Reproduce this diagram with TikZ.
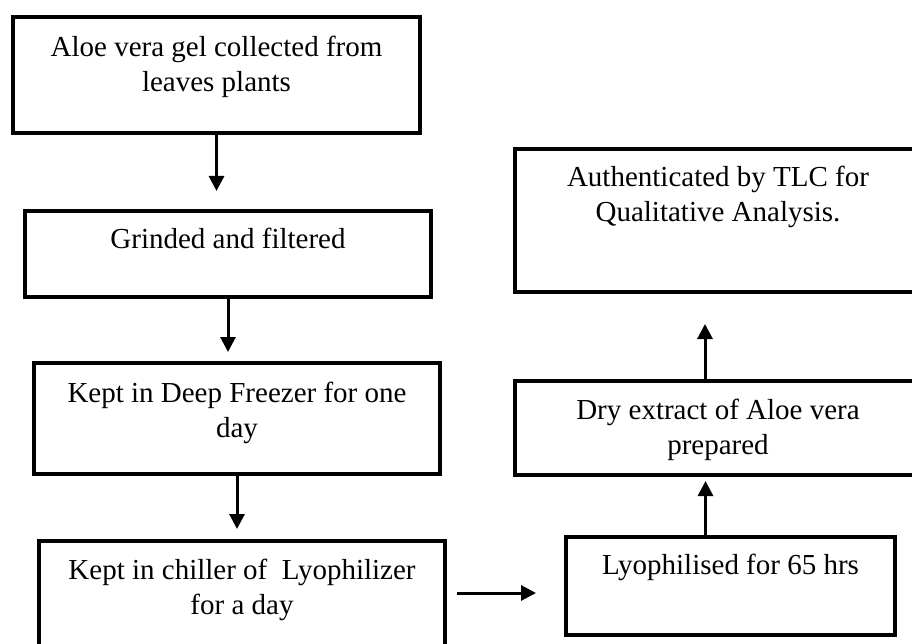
\documentclass[tikz,border=0pt]{standalone}
\usepackage{fontspec}
\setmainfont{Liberation Serif}
\usetikzlibrary{arrows.meta,calc}

\begin{document}
\begin{tikzpicture}[x=1pt,y=-1pt,
    box/.style={draw,line width=4pt,inner sep=0pt,align=flush center,text width=#1,minimum width=#1},
    flow/.style={->,line width=3pt},
    >={Triangle[length=15pt,width=15pt]},
    font=\fontsize{29}{35}\selectfont]
  \useasboundingbox (0,0) rectangle (912,644);
  \clip (0,0) rectangle (912,644);
  % left column, top to bottom
  \node[box=407pt,text height=40pt,text depth=76pt](gel) at (216.5,75){Aloe vera gel collected from\\leaves plants};
  \node[box=406pt,text height=37pt,text depth=49pt](grind) at (228,254){Grinded and filtered};
  \node[box=406pt,text height=39pt,text depth=72pt](freez) at (237,418.5){Kept in Deep Freezer for one\\day};
  \node[box=406pt,text height=38pt,text depth=82pt](chill) at (242,601){Kept in chiller of \ Lyophilizer\\for a day};
  % right column, bottom to top
  \node[box=329pt,text height=37pt,text depth=61pt](lyo) at (730.5,586){Lyophilised for 65 hrs};
  \node[box=406pt,text height=38pt,text depth=56pt](dry) at (718,428){Dry extract of Aloe vera\\prepared};
  \node[box=406pt,text height=38pt,text depth=105pt](tlc) at (718,220.5){Authenticated by TLC for\\Qualitative Analysis.};
  % arrows
  \draw[flow,shorten >=18pt](gel.south)--(gel.south |- grind.north);
  \draw[flow,shorten >=9pt](grind.south)--(grind.south |- freez.north);
  \draw[flow,shorten >=10pt](freez.south)--(freez.south |- chill.north);
  \draw[flow,shorten <=10pt,shorten >=28pt]([yshift=8pt]chill.east)--([yshift=8pt]chill.east -| lyo.west);
  \draw[flow,shorten >=4pt]([xshift=-25pt]lyo.north)--([xshift=-25pt]lyo.north |- dry.south);
  \draw[flow,shorten >=30pt]([xshift=-13pt]dry.north)--([xshift=-13pt]dry.north |- tlc.south);
\end{tikzpicture}
\end{document}
